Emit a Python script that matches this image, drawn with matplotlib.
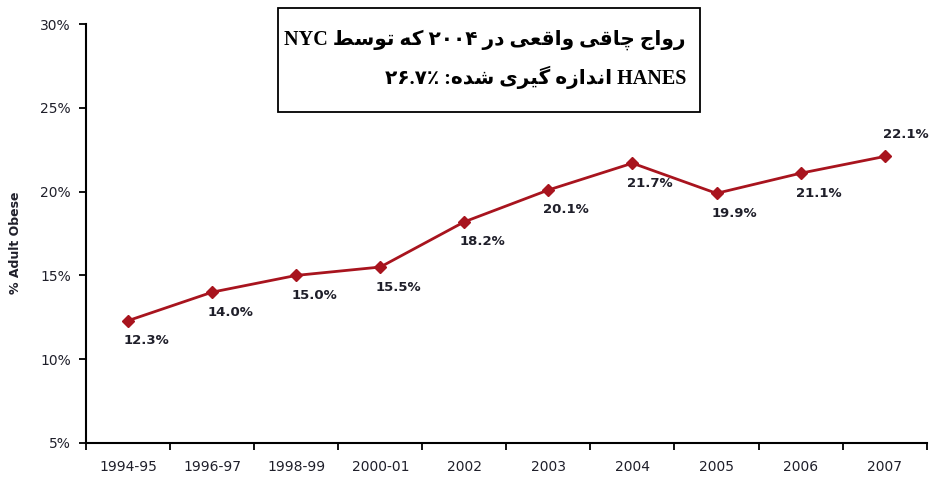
import numpy as np
import matplotlib
matplotlib.use("Agg")
import matplotlib.pyplot as plt
from matplotlib.patches import Rectangle

# data
years = ["1994-95", "1996-97", "1998-99", "2000-01", "2002", "2003", "2004", "2005", "2006", "2007"]
obese = [12.3, 14.0, 15.0, 15.5, 18.2, 20.1, 21.7, 19.9, 21.1, 22.1]
yticks = [5, 10, 15, 20, 25, 30]
note_line1 = "رواج چاقی واقعی در ۲۰۰۴ که توسط NYC"
note_line2 = "HANES اندازه گیری شده: ۲۶.۷٪"
ylabel = "% Adult Obese"

# matplotlib has no arabic shaping, so build the visual form by hand
# letter: (isolated, final, initial, medial); 2 entries = right-joining only
FORMS = {
    "ا": (0xFE8D, 0xFE8E), "د": (0xFEA9, 0xFEAA), "ر": (0xFEAD, 0xFEAE),
    "ز": (0xFEAF, 0xFEB0), "و": (0xFEED, 0xFEEE),
    "ت": (0xFE95, 0xFE96, 0xFE97, 0xFE98), "ج": (0xFE9D, 0xFE9E, 0xFE9F, 0xFEA0),
    "چ": (0xFB7A, 0xFB7B, 0xFB7C, 0xFB7D), "س": (0xFEB1, 0xFEB2, 0xFEB3, 0xFEB4),
    "ش": (0xFEB5, 0xFEB6, 0xFEB7, 0xFEB8), "ط": (0xFEC1, 0xFEC2, 0xFEC3, 0xFEC4),
    "ع": (0xFEC9, 0xFECA, 0xFECB, 0xFECC), "ق": (0xFED5, 0xFED6, 0xFED7, 0xFED8),
    "ک": (0xFB8E, 0xFB8F, 0xFB90, 0xFB91), "گ": (0xFB92, 0xFB93, 0xFB94, 0xFB95),
    "ن": (0xFEE5, 0xFEE6, 0xFEE7, 0xFEE8), "ه": (0xFEE9, 0xFEEA, 0xFEEB, 0xFEEC),
    "ی": (0xFBFC, 0xFBFD, 0xFBFE, 0xFBFF),
}


def shape_word(word):
    if not any(c in FORMS for c in word):
        return word
    out = []
    for i, ch in enumerate(word):
        f = FORMS.get(ch)
        if f is None:
            out.append(ch)
            continue
        prev = word[i - 1] if i > 0 else ""
        nxt = word[i + 1] if i + 1 < len(word) else ""
        jp = prev in FORMS and len(FORMS[prev]) == 4
        jn = len(f) == 4 and nxt in FORMS
        if jp and jn:
            g = f[3]
        elif jp:
            g = f[1]
        elif jn:
            g = f[2]
        else:
            g = f[0]
        out.append(chr(g))
    return "".join(reversed(out))


def visual(line):
    return " ".join(shape_word(w) for w in reversed(line.split(" ")))


fig = plt.figure(figsize=(9.36, 4.83), dpi=100)
ax = fig.add_axes([0.092, 0.083, 0.898, 0.867])

x = np.arange(len(years)) + 0.5
red = "#A8141E"
ink = "#1f1f2a"
ax.plot(x, obese, color=red, lw=2, marker="D", ms=6.5, mfc=red, mec=red)

for i, v in enumerate(obese):
    if i == len(obese) - 1:
        off = (-2, 22)
    else:
        off = (-5, -20)
    ax.annotate("%.1f%%" % v, (x[i], v), xytext=off, textcoords="offset pixels",
                ha="left", va="center", fontsize=9.5, fontweight="bold", color=ink)

ax.set_xlim(0, len(years))
ax.set_ylim(5, 30)
ax.set_xticks(np.arange(len(years) + 1))
ax.set_xticklabels([])
ax.set_xticks(x, minor=True)
ax.set_xticklabels(years, minor=True, fontsize=10, color=ink)
ax.tick_params(axis="x", which="major", direction="out", length=5, width=1.3)
ax.tick_params(axis="x", which="minor", length=0, pad=12)
ax.set_yticks(yticks)
ax.set_yticklabels(["%d%%" % t for t in yticks], fontsize=10, color=ink)
ax.tick_params(axis="y", direction="out", length=5, width=1.3, pad=6)

for s in ["top", "right"]:
    ax.spines[s].set_visible(False)
for s in ["left", "bottom"]:
    ax.spines[s].set_linewidth(1.5)

fig.text(0.017, 0.497, ylabel, rotation=90, ha="center", va="center",
         fontsize=9, fontweight="bold", color=ink)

# note box
fig.patches.append(Rectangle((278 / 936, 1 - 112 / 483), 422 / 936, 104 / 483,
                             transform=fig.transFigure, fill=False, ec="black", lw=1.3))
fam = ["Liberation Serif", "DejaVu Sans"]
fig.text(686 / 936, 1 - 40 / 483, visual(note_line1), ha="right", va="center",
         fontsize=14.5, fontweight="bold", family=fam)
fig.text(686 / 936, 1 - 77 / 483, visual(note_line2), ha="right", va="center",
         fontsize=14.5, fontweight="bold", family=fam)

fig.savefig("out.png", dpi=100)
